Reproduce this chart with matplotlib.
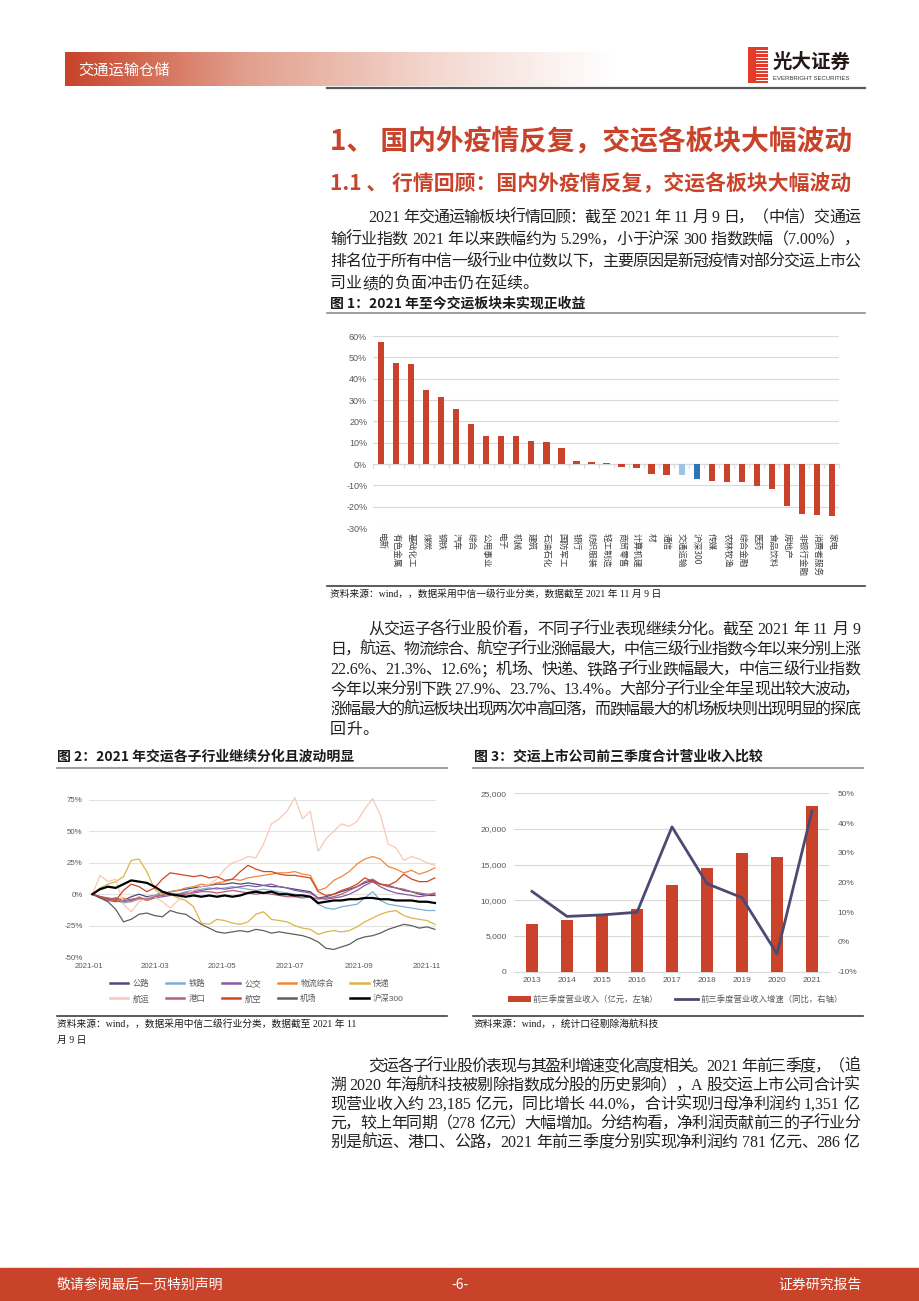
import re
import matplotlib
matplotlib.use('Agg')
import matplotlib.pyplot as plt
from matplotlib.colors import LinearSegmentedColormap
from matplotlib.patches import Rectangle
from matplotlib.lines import Line2D
from matplotlib.ticker import FuncFormatter
import numpy as np
import pandas as pd

# ---- figure 1: 2021 returns by CITIC level-1 industry (%)
fig1_names = ['电新', '有色金属', '基础化工', '煤炭', '钢铁', '汽车', '综合', '公用事业', '电子', '机械',
              '建筑', '石油石化', '国防军工', '银行', '纺织服装', '轻工制造', '商贸零售', '计算机建', '材',
              '通信', '交通运输', '沪深300', '传媒', '农林牧渔', '综合金融', '医药', '食品饮料', '房地产',
              '非银行金融', '消费者服务', '家电']
fig1_returns = [57.0, 47.3, 46.8, 34.7, 31.3, 26.0, 18.7, 13.3, 13.3, 13.0, 10.8, 10.2, 7.5, 1.3, 0.8,
                0.5, -1.2, -2.0, -4.5, -5.0, -5.29, -7.0, -7.8, -8.5, -8.5, -10.3, -11.5, -19.5, -23.3,
                -23.8, -24.5]

# ---- figure 2: sub-industry cumulative returns in 2021 (%), weekly readings
fig2_dates = pd.date_range('2021-01-04', '2021-11-08', freq='7D')
gonglu = [0, -2, -4, -3, -5, -2, 0, -2, -1, 0, 2, 3, 4, 5, 6, 7, 8, 8, 9, 8, 9, 8, 7, 6, 6,
          5, 4, 3, 2, -3, -2, 0, 2, 4, 6, 9, 11, 8, 7, 5, 3, 2, 0, -1, -1]
tielu = [0, -2, -3, -5, -7, -6, -4, -3, -1, 2, 1, 0, 2, 3, 4, 5, 4, 5, 6, 5, 4, 3, 4, 3, 2,
         1, 0, -1, -2, -8, -11, -12, -10, -9, -8, -3, 2, -5, -8, -9, -10, -11, -12, -13, -13]
gongjiao = [0, -3, -5, -6, -5, -4, -3, -5, -3, -2, -1, 0, 1, 2, 3, 4, 5, 4, 5, 6, 7, 6, 7, 8, 6,
            5, 3, 2, 1, -3, -4, -3, -2, 0, 3, 7, 10, 6, 3, 1, 0, -1, -2, -1, 1]
wuliu = [0, -2, -4, -5, -3, -6, -2, -5, -2, 0, 2, 3, 5, 6, 8, 7, 9, 10, 12, 11, 13, 14, 15, 16, 17,
         17, 18, 16, 15, 3, 5, 11, 14, 18, 24, 28, 30, 28, 22, 20, 17, 19, 16, 18, 21]
kuaidi = [0, 5, 8, 10, 14, 27, 28, 18, 4, -1, 0, -3, -5, -10, -23, -24, -20, -21, -23, -24, -22, -16,
          -14, -20, -21, -22, -25, -27, -28, -32, -30, -29, -30, -29, -26, -22, -19, -16, -14, -13,
          -17, -19, -20, -21, -24]
hangyun = [0, 15, 10, 12, -8, -14, -6, -3, -2, -6, -11, -5, 0, 3, 6, 8, 12, 20, 25, 27, 30, 29, 40,
           56, 60, 66, 77, 60, 66, 34, 44, 50, 56, 54, 58, 68, 76, 63, 40, 37, 27, 30, 28, 25, 23]
gangkou = [0, -2, -3, -4, -6, -5, -3, -4, -2, -1, 0, -1, 0, 1, 2, 2, 1, 2, 3, 2, 1, 0, 1, 0, -1,
           -2, -2, -3, -2, -4, -3, -2, 0, 3, 6, 10, 12, 8, 6, 5, 4, 2, 1, 0, 0]
hangkong = [0, -2, -4, -5, 3, 8, 6, 2, 5, 12, 17, 16, 15, 14, 15, 13, 14, 11, 12, 18, 23, 20, 18, 18,
            16, 15, 15, 14, 13, 2, -1, 0, 3, 5, 8, 13, 10, 8, 7, 10, 16, 12, 10, 10, 13]
jichang = [0, -3, -6, -12, -22, -20, -16, -15, -17, -18, -13, -15, -16, -20, -24, -27, -30, -31, -30,
           -29, -30, -28, -29, -31, -30, -31, -32, -33, -35, -38, -43, -44, -42, -40, -36, -34, -33,
           -31, -28, -26, -24, -25, -27, -26, -28]
hs300 = [0, 4, 6, 5, 8, 11, 10, 9, 6, 2, 0, -1, -2, -1, -2, -1, -2, -1, -2, -1, 1, 2, 1, 2, 0,
         0, -1, -1, -2, -7, -6, -5, -5, -4, -4, -3, -3, -4, -4, -5, -5, -5, -6, -6, -7]
fig2_names = ['公路', '铁路', '公交', '物流综合', '快递', '航运', '港口', '航空', '机场', '沪深300']
fig2_series = [gonglu, tielu, gongjiao, wuliu, kuaidi, hangyun, gangkou, hangkong, jichang, hs300]
fig2_ticks = ['2021-01', '2021-03', '2021-05', '2021-07', '2021-09', '2021-11']

# ---- figure 3: first-three-quarter revenue (100m yuan) and yoy growth (%)
years = ['2013', '2014', '2015', '2016', '2017', '2018', '2019', '2020', '2021']
revenue = [6640, 7240, 7900, 8740, 12100, 14570, 16670, 16110, 23185]
growth = [17.0, 8.6, 9.1, 10.0, 38.7, 19.6, 14.9, -4.0, 44.0]

W, H = 920, 1301
RED = '#C8432A'
SANS = ['Liberation Sans', 'Noto Sans CJK SC']
CJK = ['Noto Sans CJK SC', 'DejaVu Sans']
BODY = ['Liberation Serif', 'Noto Sans CJK SC']
GREY = '#595959'
plt.rcParams['font.family'] = SANS

fig = plt.figure(figsize=(9.2, 13.01), dpi=100)
renderer = fig.canvas.get_renderer()


def fx(x):
    return x / W


def fy(y):
    return 1 - y / H


def box(x0, y0, x1, y1):
    return [x0 / W, 1 - y1 / H, (x1 - x0) / W, (y1 - y0) / H]


def hline(y, x0, x1, color, lw):
    fig.add_artist(Line2D([fx(x0), fx(x1)], [fy(y), fy(y)], color=color, lw=lw))


def body_line(y, s, x0=330, x1=860, justify=True, size=11.5):
    toks = re.findall(r'[A-Za-z0-9.,%]+| |\S', s)
    arts, ws = [], []
    for t in toks:
        if t == ' ':
            arts.append(None)
            ws.append(5.0)
            continue
        a = fig.text(0, fy(y), t, fontsize=size, family=BODY, weight='light', color='#222222',
                     va='center')
        arts.append(a)
        ws.append(a.get_window_extent(renderer).width)
    gap = (x1 - x0 - sum(ws)) / (len(toks) - 1) if justify else 0
    x = x0
    for a, w in zip(arts, ws):
        if a is not None:
            a.set_x(fx(x))
        x += w + gap


# ---- page header
hdr = fig.add_axes(box(65, 52, 612, 86))
cmap = LinearSegmentedColormap.from_list('hdr', [RED, '#E2A08E', '#F3D6CD', 'white'])
hdr.imshow(np.linspace(0, 1, 256)[None, :], aspect='auto', cmap=cmap, extent=(0, 1, 0, 1))
hdr.axis('off')
fig.text(fx(78), fy(70), '交通运输仓储', color='white', fontsize=11, family=CJK, va='center')

logo = fig.add_axes(box(748, 47, 768, 83))
logo.add_patch(Rectangle((0, 0), 1, 1, color='#E33B2C'))
for yy in np.linspace(0.08, 0.92, 10):
    logo.plot([0.38, 1], [yy, yy], color='white', lw=0.7)
logo.set_xlim(0, 1)
logo.set_ylim(0, 1)
logo.axis('off')
fig.text(fx(773), fy(62), '光大证券', fontsize=14, weight='bold', family=CJK, va='center', color='#231815')
fig.text(fx(773), fy(78), 'EVERBRIGHT SECURITIES', fontsize=4.3, va='center', color='#333333')
hline(88, 327, 865, '#595959', 1.6)

# ---- headings and first paragraph
fig.text(fx(330), fy(141), '1、 国内外疫情反复，交运各板块大幅波动', color=RED, fontsize=20,
         weight='bold', family=CJK, va='center')
fig.text(fx(330), fy(184), '1.1 、 行情回顾：国内外疫情反复，交运各板块大幅波动', color=RED, fontsize=15,
         weight='bold', family=CJK, va='center')

body_line(218, '2021 年交通运输板块行情回顾：截至 2021 年 11 月 9 日，（中信）交通运', x0=368)
body_line(240, '输行业指数 2021 年以来跌幅约为 5.29%，小于沪深 300 指数跌幅（7.00%），')
body_line(262, '排名位于所有中信一级行业中位数以下，主要原因是新冠疫情对部分交运上市公')
body_line(284, '司业绩的负面冲击仍在延续。', justify=False)

# ---- figure 1
fig.text(fx(330), fy(303), '图 1：2021 年至今交运板块未实现正收益', fontsize=10, weight='bold',
         family=CJK, va='center', color='#1a1a1a')
hline(313, 327, 865, '#8C8C8C', 1.2)

ax1 = fig.add_axes(box(373.5, 336, 839.5, 528))
n1 = len(fig1_names)
x1 = np.arange(n1)
bar_colors = [RED] * n1
bar_colors[fig1_names.index('交通运输')] = '#9DC3E6'
bar_colors[fig1_names.index('沪深300')] = '#2E75B6'
ax1.bar(x1, fig1_returns, width=0.42, color=bar_colors, zorder=3)
ax1.set_xlim(-0.5, n1 - 0.5)
ax1.set_ylim(-30, 60)
ax1.set_yticks(range(-30, 61, 10))
ax1.yaxis.set_major_formatter(FuncFormatter(lambda v, p: f'{v:.0f}%'))
ax1.grid(axis='y', color='#D9D9D9', lw=0.8)
ax1.set_axisbelow(True)
for s in ['top', 'right', 'left']:
    ax1.spines[s].set_visible(False)
ax1.spines['bottom'].set_position(('data', 0))
ax1.spines['bottom'].set_color('#D9D9D9')
ax1.set_xticks(np.arange(n1 + 1) - 0.5)
ax1.set_xticklabels([])
ax1.tick_params(axis='x', length=3, color='#D9D9D9')
ax1.tick_params(axis='y', length=0, labelsize=6.5, labelcolor=GREY, pad=4.5)
for i, name in enumerate(fig1_names):
    ax1.text(i, -0.028, name, transform=ax1.get_xaxis_transform(), rotation=270, ha='center',
             va='top', fontsize=6.2, color='#404040', family=CJK)

hline(586, 327, 865, '#404040', 1.2)
fig.text(fx(330), fy(594), '资料来源：wind，，数据采用中信一级行业分类，数据截至 2021 年 11 月 9 日',
         fontsize=7, family=BODY, weight='light', va='center', color='#1a1a1a')

# ---- second paragraph
body_line(630, '从交运子各行业股价看，不同子行业表现继续分化。截至 2021 年 11 月 9', x0=368)
body_line(650, '日，航运、物流综合、航空子行业涨幅最大，中信三级行业指数今年以来分别上涨')
body_line(670, '22.6%、21.3%、12.6%；机场、快递、铁路子行业跌幅最大，中信三级行业指数')
body_line(690, '今年以来分别下跌 27.9%、23.7%、13.4%。大部分子行业全年呈现出较大波动，')
body_line(710, '涨幅最大的航运板块出现两次冲高回落，而跌幅最大的机场板块则出现明显的探底')
body_line(730, '回升。', justify=False)

# ---- figure 2
fig.text(fx(57), fy(757), '图 2：2021 年交运各子行业继续分化且波动明显', fontsize=10, weight='bold',
         family=CJK, va='center', color='#1a1a1a')
hline(768, 57, 447, '#8C8C8C', 1.2)

ax2 = fig.add_axes(box(89, 800, 436, 957))
fig2_colors = ['#4B4A7E', '#7FB0D4', '#8D5AA0', '#F0883A', '#DDB445', '#F9C8B4', '#B5607A',
               '#D4461F', '#5F5F5F', '#000000']
handles = []
for name, vals, c in zip(fig2_names, fig2_series, fig2_colors):
    black = name == '沪深300'
    h, = ax2.plot(fig2_dates, vals, color=c, lw=1.6 if black else 0.9, zorder=5 if black else 3,
                  label=name, clip_on=False)
    handles.append(h)
ax2.set_xlim(pd.Timestamp('2021-01-01'), pd.Timestamp('2021-11-09'))
ax2.set_ylim(-50, 75)
ax2.set_yticks(range(-50, 76, 25))
ax2.yaxis.set_major_formatter(FuncFormatter(lambda v, p: f'{v:.0f}%'))
ax2.set_xticks(pd.to_datetime([t + '-01' for t in fig2_ticks]))
ax2.set_xticklabels(fig2_ticks)
ax2.grid(axis='y', color='#E3E3E3', lw=0.8)
for s in ax2.spines.values():
    s.set_visible(False)
ax2.tick_params(length=0, labelsize=5.7, labelcolor=GREY)
ax2.tick_params(axis='y', pad=4.5)
ax2.tick_params(axis='x', pad=4.5)
order = [0, 5, 1, 6, 2, 7, 3, 8, 4, 9]
leg2 = ax2.legend([handles[i] for i in order], [fig2_names[i] for i in order], ncol=5,
                  loc='upper left', bbox_to_anchor=(fx(110), fy(980)), bbox_transform=fig.transFigure,
                  frameon=False, fontsize=6, handlelength=2.2, handletextpad=0.5, columnspacing=2.0,
                  labelspacing=0.8, borderaxespad=0, borderpad=0, labelcolor=GREY)
for ln in leg2.get_lines():
    ln.set_linewidth(1.8)

hline(1016, 57, 447, '#404040', 1.2)
fig.text(fx(57), fy(1024), '资料来源：wind，，数据采用中信二级行业分类，数据截至 2021 年 11',
         fontsize=7, family=BODY, weight='light', va='center', color='#1a1a1a')
fig.text(fx(57), fy(1040), '月 9 日', fontsize=7, family=BODY, weight='light', va='center',
         color='#1a1a1a')

# ---- figure 3
fig.text(fx(474), fy(757), '图 3：交运上市公司前三季度合计营业收入比较', fontsize=10, weight='bold',
         family=CJK, va='center', color='#1a1a1a')
hline(768, 473, 863, '#8C8C8C', 1.2)

ax3 = fig.add_axes(box(514.5, 793.3, 829.5, 971.7))
x3 = np.arange(len(years))
bars = ax3.bar(x3, revenue, width=0.34, color=RED, zorder=3, label='前三季度营业收入（亿元，左轴）')
ax3.set_xlim(-0.5, len(years) - 0.5)
ax3.set_ylim(0, 25000)
ax3.set_yticks(range(0, 25001, 5000))
ax3.yaxis.set_major_formatter(FuncFormatter(lambda v, p: f'{v:,.0f}'))
ax3.set_xticks(x3)
ax3.set_xticklabels(years)
ax3.grid(axis='y', color='#D9D9D9', lw=0.8)
ax3.set_axisbelow(True)
for s in ['top', 'right', 'left']:
    ax3.spines[s].set_visible(False)
ax3.spines['bottom'].set_color('#D9D9D9')
ax3.tick_params(length=0, labelsize=6, labelcolor=GREY)
ax3.tick_params(axis='y', pad=5.5)
ax3.tick_params(axis='x', pad=4)

ax3r = ax3.twinx()
line3, = ax3r.plot(x3, growth, color='#4B4A72', lw=2, zorder=4, label='前三季度营业收入增速（同比，右轴）')
ax3r.set_ylim(-10, 50)
ax3r.set_yticks(range(-10, 51, 10))
ax3r.yaxis.set_major_formatter(FuncFormatter(lambda v, p: f'{v:.0f}%'))
for s in ax3r.spines.values():
    s.set_visible(False)
ax3r.tick_params(length=0, labelsize=6, labelcolor=GREY, pad=6)
ax3.legend([bars, line3], [bars.get_label(), line3.get_label()], ncol=2, loc='upper left',
           bbox_to_anchor=(fx(508), fy(995)), bbox_transform=fig.transFigure, frameon=False,
           fontsize=6, handlelength=2.7, handleheight=0.8, handletextpad=0.3, columnspacing=2.0,
           borderaxespad=0, borderpad=0, labelcolor=GREY)

hline(1016, 473, 863, '#404040', 1.2)
fig.text(fx(474), fy(1024), '资料来源：wind，，统计口径剔除海航科技', fontsize=7, family=BODY,
         weight='light', va='center', color='#1a1a1a')

# ---- third paragraph
body_line(1067, '交运各子行业股价表现与其盈利增速变化高度相关。2021 年前三季度，（追', x0=368)
body_line(1086, '溯 2020 年海航科技被剔除指数成分股的历史影响），A 股交运上市公司合计实')
body_line(1105, '现营业收入约 23,185 亿元，同比增长 44.0%，合计实现归母净利润约 1,351 亿')
body_line(1124, '元，较上年同期（278 亿元）大幅增加。分结构看，净利润贡献前三的子行业分')
body_line(1143, '别是航运、港口、公路，2021 年前三季度分别实现净利润约 781 亿元、286 亿')

# ---- page footer
fig.add_artist(Rectangle((0, 0), 1, 33 / H, transform=fig.transFigure, color=RED))
fig.text(fx(57), fy(1285), '敬请参阅最后一页特别声明', color='white', fontsize=10, family=CJK, va='center')
fig.text(fx(460), fy(1285), '-6-', color='white', fontsize=10, family=CJK, va='center', ha='center')
fig.text(fx(862), fy(1285), '证券研究报告', color='white', fontsize=10, family=CJK, va='center', ha='right')

fig.savefig('out.png', dpi=100)
